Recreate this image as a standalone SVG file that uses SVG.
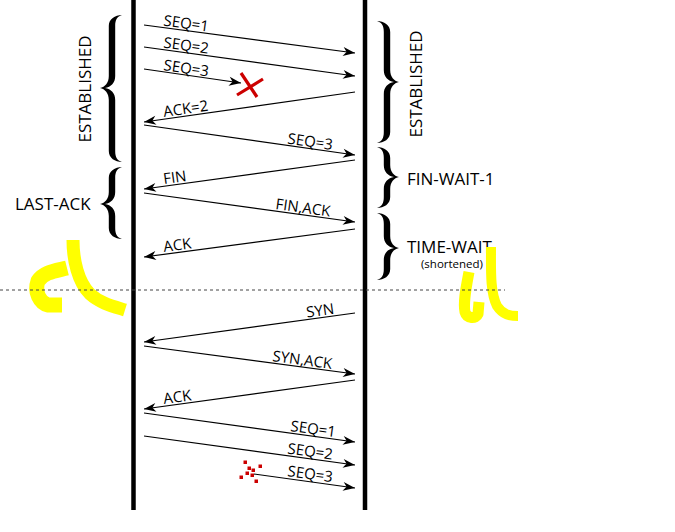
<svg xmlns="http://www.w3.org/2000/svg" width="675" height="532" viewBox="0 0 675 532">
<style>
text{font-family:"Open Sans","Noto Sans","Liberation Sans",sans-serif;fill:#000}
.lbl{font-size:15px}
.st{font-size:17px}
.msg{stroke:#000;stroke-width:1.2;fill:none;marker-end:url(#ah)}
.brace{fill:#000}
.life{stroke:#000;stroke-width:4.5}
.hl{stroke:#ffff00;fill:none;stroke-linejoin:round}
.red{fill:#cc0000}
</style>
<defs>
<marker id="ah" viewBox="-13 -5 14 10" refX="0" refY="0" markerWidth="14" markerHeight="10" markerUnits="userSpaceOnUse" orient="auto">
<path d="M0,0 L-12,-4.5 L-8.5,0 L-12,4.5 Z" fill="#000"/>
</marker>
</defs>

<g id="host-left"><line class="life" x1="133.5" y1="0" x2="133.5" y2="510"/></g>
<g id="host-right"><line class="life" x1="365" y1="0" x2="365" y2="510"/></g>

<g id="state-left-established">
<path class="brace" d="M122,15 C115,15 108.8,19 108.8,26 L108.8,76 C108.8,83 105,87 100,88 C105,89 108.8,93 108.8,100 L108.8,151 C108.8,158 115,162 122,162 C117,160.5 115.2,157 115.2,151 L115.2,100 C115.2,93 111,89 105,88 C111,87 115.2,83 115.2,76 L115.2,26 C115.2,20 117,16.5 122,15 Z"/>
<text class="st" transform="translate(91,89) rotate(-90)" text-anchor="middle">ESTABLISHED</text>
</g>
<g id="state-left-lastack">
<path class="brace" d="M122,167 C115,167 108.8,171 108.8,178 L108.8,192 C108.8,199 105,203 100,204 C105,205 108.8,209 108.8,216 L108.8,228 C108.8,235 115,239 122,239 C117,237.5 115.2,234 115.2,228 L115.2,216 C115.2,209 111,205 105,204 C111,203 115.2,199 115.2,192 L115.2,178 C115.2,172 117,168.5 122,167 Z"/>
<text class="st" x="15" y="210">LAST-ACK</text>
</g>
<g id="state-right-established">
<path class="brace" d="M377,21 C384,21 390.2,25 390.2,32 L390.2,70 C390.2,77 394,81 399,82 C394,83 390.2,87 390.2,94 L390.2,132 C390.2,139 384,143 377,143 C382,141.5 383.8,138 383.8,132 L383.8,94 C383.8,87 388,83 394,82 C388,81 383.8,77 383.8,70 L383.8,32 C383.8,26 382,22.5 377,21 Z"/>
<text class="st" transform="translate(422,84) rotate(-90)" text-anchor="middle">ESTABLISHED</text>
</g>
<g id="state-right-finwait1">
<path class="brace" d="M377,147 C384,147 390.2,151 390.2,158 L390.2,165 C390.2,172 394,176 399,177 C394,178 390.2,182 390.2,189 L390.2,197 C390.2,204 384,208 377,208 C382,206.5 383.8,203 383.8,197 L383.8,189 C383.8,182 388,178 394,177 C388,176 383.8,172 383.8,165 L383.8,158 C383.8,152 382,148.5 377,147 Z"/>
<text class="st" x="407" y="185">FIN-WAIT-1</text>
</g>
<g id="state-right-timewait">
<path class="brace" d="M377,213 C384,213 390.2,217 390.2,224 L390.2,236 C390.2,243 394,247 399,248 C394,249 390.2,253 390.2,260 L390.2,269 C390.2,276 384,280 377,280 C382,278.5 383.8,275 383.8,269 L383.8,260 C383.8,253 388,249 394,248 C388,247 383.8,243 383.8,236 L383.8,224 C383.8,218 382,214.5 377,213 Z"/>
<text class="st" x="407" y="253">TIME-WAIT</text>
<text x="452" y="268" font-size="11.5" text-anchor="middle">(shortened)</text>
</g>

<g id="highlights">
<path class="hl" stroke-width="13" d="M73,240 C73,260 78,282 90,294 C100,303 112,306 125,310"/>
<path class="hl" stroke-width="15" d="M67,268 C55,271 44,272 38,281 C34,292 40,303 48,305 L62,305"/>
<path class="hl" stroke-width="10" d="M491,247 C491,270 490,292 497,306 C503,315 510,316 518,316"/>
<path class="hl" stroke-width="11" d="M469,272 C466,288 463,302 465,312 C467,319 476,319 478,314 L479,302"/>
</g>

<line x1="0" y1="290" x2="505" y2="290" stroke="#444" stroke-width="1" stroke-dasharray="3,3"/>

<g id="connectors">
<line class="msg" x1="144" y1="25" x2="355" y2="53"/>
<line class="msg" x1="144" y1="47" x2="355" y2="76"/>
<line class="msg" x1="144" y1="69" x2="241" y2="83"/>
<line class="msg" x1="355" y1="92" x2="144" y2="122"/>
<line class="msg" x1="144" y1="125" x2="355" y2="155"/>
<line class="msg" x1="355" y1="160" x2="144" y2="189"/>
<line class="msg" x1="144" y1="193" x2="355" y2="222"/>
<line class="msg" x1="355" y1="229" x2="144" y2="257"/>
<line class="msg" x1="355" y1="313" x2="144" y2="342"/>
<line class="msg" x1="144" y1="346" x2="355" y2="374"/>
<line class="msg" x1="355" y1="380" x2="144" y2="409"/>
<line class="msg" x1="144" y1="413" x2="355" y2="442"/>
<line class="msg" x1="144" y1="436" x2="355" y2="465"/>
<line class="msg" x1="254" y1="474" x2="355" y2="488"/>
</g>

<g id="labels">
<text class="lbl" transform="translate(163,25.5) rotate(7.8)">SEQ=1</text>
<text class="lbl" transform="translate(163,47.5) rotate(7.8)">SEQ=2</text>
<text class="lbl" transform="translate(163,70) rotate(8.3)">SEQ=3</text>
<text class="lbl" transform="translate(164,117) rotate(-8.1)">ACK=2</text>
<text class="lbl" transform="translate(287,143.5) rotate(8.1)">SEQ=3</text>
<text class="lbl" transform="translate(164,184) rotate(-7.8)">FIN</text>
<text class="lbl" transform="translate(275,209) rotate(7.8)">FIN,ACK</text>
<text class="lbl" transform="translate(164,252) rotate(-7.6)">ACK</text>
<text class="lbl" transform="translate(307,317.5) rotate(-7.8)">SYN</text>
<text class="lbl" transform="translate(272,361) rotate(7.6)">SYN,ACK</text>
<text class="lbl" transform="translate(164,404) rotate(-7.8)">ACK</text>
<text class="lbl" transform="translate(290,431) rotate(7.8)">SEQ=1</text>
<text class="lbl" transform="translate(287,453.5) rotate(7.8)">SEQ=2</text>
<text class="lbl" transform="translate(287,476) rotate(7.9)">SEQ=3</text>
</g>

<g id="loss-marks">
<path d="M241,73 L257,97 M237,95 L263,79" stroke="#cc0000" stroke-width="3.2" fill="none"/>
<rect class="red" x="243.5" y="460.5" width="3.5" height="3.5"/>
<rect class="red" x="258.5" y="464.5" width="3.5" height="3.5"/>
<rect class="red" x="247.5" y="466.5" width="3.5" height="3.5"/>
<rect class="red" x="251.5" y="468.5" width="3.5" height="3.5"/>
<rect class="red" x="245.5" y="471.5" width="3.5" height="3.5"/>
<rect class="red" x="250.5" y="473.5" width="3.5" height="3.5"/>
<rect class="red" x="239.5" y="475.5" width="3.5" height="3.5"/>
<rect class="red" x="254.5" y="479.5" width="3.5" height="3.5"/>
</g>
</svg>
